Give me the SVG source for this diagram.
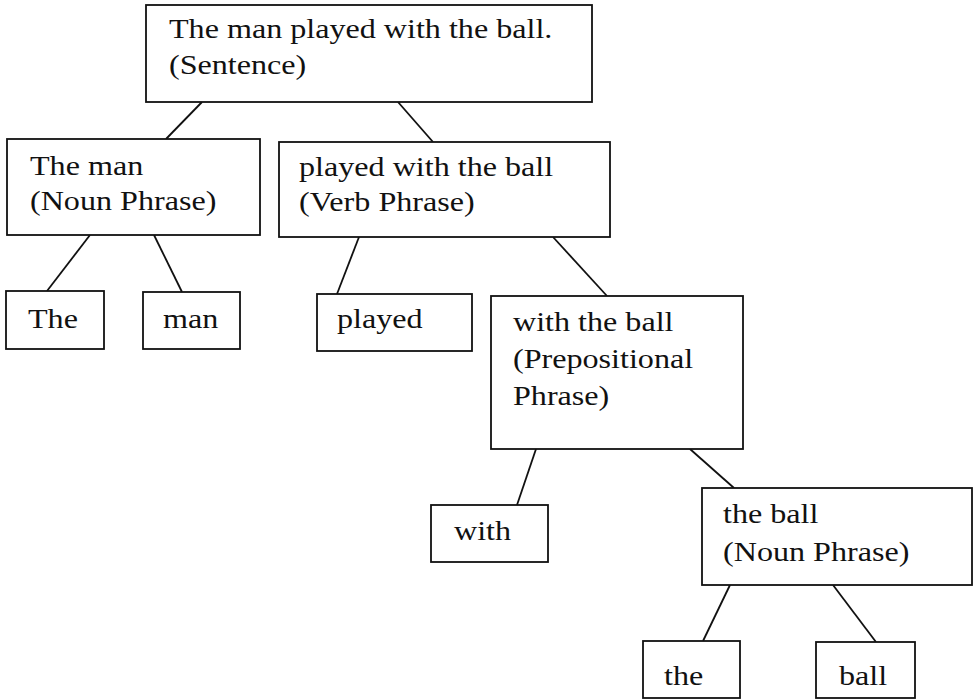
<svg xmlns="http://www.w3.org/2000/svg" width="974" height="700" viewBox="0 0 974 700">
<style>
.box{fill:#fff;stroke:#111;stroke-width:1.8}
line{stroke:#111;stroke-width:1.8}
text{font-family:"Liberation Serif","Times New Roman",serif;font-size:27px;fill:#111}
</style>
<rect width="974" height="700" fill="#fff"/>
<g id="connectors">
<line x1="202" y1="102" x2="166" y2="139"/>
<line x1="398" y1="102" x2="433" y2="142"/>
<line x1="90" y1="235" x2="47" y2="291"/>
<line x1="154" y1="235" x2="182" y2="292"/>
<line x1="359" y1="237" x2="337" y2="294"/>
<line x1="553" y1="237" x2="607" y2="296"/>
<line x1="536" y1="449" x2="517" y2="505"/>
<line x1="690" y1="449" x2="734" y2="488"/>
<line x1="730" y1="585" x2="703" y2="641"/>
<line x1="833" y1="585" x2="876" y2="642"/>
</g>
<g id="sentence"><rect class="box" x="146" y="5" width="446" height="97"/><text transform="scale(1.19 1)" x="142" y="38">The man played with the ball.</text><text transform="scale(1.19 1)" x="142" y="74">(Sentence)</text></g>
<g id="np1"><rect class="box" x="7" y="139" width="253" height="96"/><text transform="scale(1.19 1)" x="25.2" y="175">The man</text><text transform="scale(1.19 1)" x="25.2" y="210">(Noun Phrase)</text></g>
<g id="vp"><rect class="box" x="279" y="142" width="331" height="95"/><text transform="scale(1.19 1)" x="251.3" y="176">played with the ball</text><text transform="scale(1.19 1)" x="251.3" y="211">(Verb Phrase)</text></g>
<g id="the1"><rect class="box" x="6" y="291" width="98" height="58"/><text transform="scale(1.19 1)" x="23.5" y="328">The</text></g>
<g id="man"><rect class="box" x="143" y="292" width="97" height="57"/><text transform="scale(1.19 1)" x="137" y="328">man</text></g>
<g id="played"><rect class="box" x="317" y="294" width="155" height="57"/><text transform="scale(1.19 1)" x="283.2" y="328">played</text></g>
<g id="pp"><rect class="box" x="491" y="296" width="252" height="153"/><text transform="scale(1.19 1)" x="431.1" y="331">with the ball</text><text transform="scale(1.19 1)" x="431.1" y="368">(Prepositional</text><text transform="scale(1.19 1)" x="431.1" y="405">Phrase)</text></g>
<g id="with"><rect class="box" x="431" y="505" width="117" height="57"/><text transform="scale(1.19 1)" x="381.5" y="540">with</text></g>
<g id="np2"><rect class="box" x="702" y="488" width="270" height="97"/><text transform="scale(1.19 1)" x="607.6" y="523">the ball</text><text transform="scale(1.19 1)" x="607.6" y="561">(Noun Phrase)</text></g>
<g id="the2"><rect class="box" x="643" y="641" width="97" height="57"/><text transform="scale(1.19 1)" x="558" y="685">the</text></g>
<g id="ball"><rect class="box" x="816" y="642" width="99" height="56"/><text transform="scale(1.19 1)" x="705" y="685">ball</text></g>
</svg>
